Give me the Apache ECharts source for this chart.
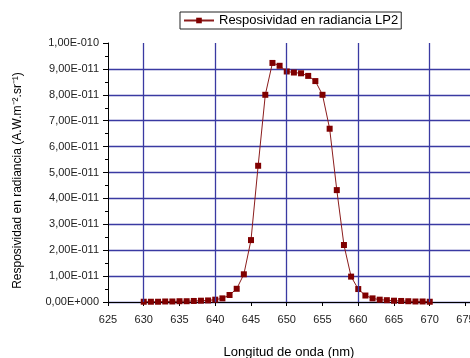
<!DOCTYPE html>
<html>
<head>
<meta charset="utf-8">
<script src="https://cdn.jsdelivr.net/npm/echarts@6/dist/echarts.min.js"></script>
<style>
  html, body { margin: 0; padding: 0; background: #fff; }
  #chart { width: 470px; height: 358px; }
</style>
</head>
<body>
<div id="chart"></div>
<script>
// wavelengths (nm)
const wavelengths = [
  630, 631, 632, 633, 634, 635, 636, 637, 638, 639,
  640, 641, 642, 643, 644, 645, 646, 647, 648, 649,
  650, 651, 652, 653, 654, 655, 656, 657, 658, 659,
  660, 661, 662, 663, 664, 665, 666, 667, 668, 669, 670
];
// responsivity in radiance (A.W.m-2.sr-1)
const responsivity = [
  0.01e-11, 0.01e-11, 0.01e-11, 0.02e-11, 0.02e-11, 0.03e-11, 0.03e-11, 0.04e-11, 0.05e-11, 0.06e-11,
  0.09e-11, 0.14e-11, 0.27e-11, 0.51e-11, 1.07e-11, 2.39e-11, 5.26e-11, 8.00e-11, 9.23e-11, 9.12e-11,
  8.90e-11, 8.86e-11, 8.83e-11, 8.73e-11, 8.53e-11, 8.00e-11, 6.69e-11, 4.32e-11, 2.20e-11, 0.98e-11,
  0.50e-11, 0.25e-11, 0.14e-11, 0.09e-11, 0.07e-11, 0.05e-11, 0.04e-11, 0.03e-11, 0.02e-11, 0.02e-11, 0.01e-11
];
const yTickLabels = [
  '0,00E+000', '1,00E-011', '2,00E-011', '3,00E-011', '4,00E-011', '5,00E-011',
  '6,00E-011', '7,00E-011', '8,00E-011', '9,00E-011', '1,00E-010'
];
// vertical grid lines
const xGridLines = [630, 640, 650, 660, 670];

const seriesName = 'Resposividad en radiancia LP2';
const font = 'Liberation Sans, Arial, sans-serif';
const gridColor = '#3a3aa2';

const chart = echarts.init(document.getElementById('chart'));
chart.setOption({
  animation: false,
  textStyle: { fontFamily: font },
  legend: {
    data: [seriesName],
    left: 180,
    top: 12,
    padding: [2, 3, 2, 3],
    borderColor: '#222',
    borderWidth: 1,
    itemWidth: 30,
    itemHeight: 7,
    itemGap: 4,
    textStyle: { fontSize: 13, color: '#000', fontFamily: font }
  },
  grid: { left: 108, top: 43, right: 0, bottom: 56, outerBoundsMode: 'none', containLabel: false },
  xAxis: {
    type: 'value',
    min: 625,
    max: 675.63,
    interval: 5,
    offset: 4,
    name: 'Longitud de onda (nm)',
    nameLocation: 'middle',
    nameGap: 40,
    nameTextStyle: { fontSize: 13, color: '#000', fontFamily: font },
    axisLine: { lineStyle: { color: '#000', width: 1 } },
    axisTick: { length: 4, lineStyle: { color: '#000' } },
    axisLabel: { fontSize: 11, color: '#222', margin: 8, fontFamily: font },
    splitLine: { show: false }
  },
  yAxis: {
    type: 'value',
    min: 0,
    max: 1e-10,
    interval: 1e-11,
    name: 'Resposividad en radiancia (A.W.m⁻².sr⁻¹)',
    nameLocation: 'middle',
    nameGap: 84,
    nameTextStyle: { fontSize: 12, color: '#000', fontFamily: font, padding: [0, 16, 0, 0] },
    axisLine: { show: true, lineStyle: { color: '#000', width: 1 } },
    axisTick: { length: 5, lineStyle: { color: '#000' } },
    minorTick: { show: true, splitNumber: 2, length: 3, lineStyle: { color: '#000' } },
    axisLabel: {
      fontSize: 11,
      color: '#222',
      margin: 9,
      fontFamily: font,
      formatter: (v) => yTickLabels[Math.round(v / 1e-11)]
    },
    splitLine: {
      show: true,
      showMaxLine: false,
      lineStyle: { color: gridColor, width: 1.3 }
    }
  },
  series: [
    {
      name: seriesName,
      type: 'line',
      data: wavelengths.map((w, i) => [w, responsivity[i]]),
      symbol: 'rect',
      symbolSize: 6,
      itemStyle: { color: '#800000' },
      lineStyle: { color: '#8b1c1c', width: 1 },
      markLine: {
        silent: true,
        symbol: 'none',
        label: { show: false },
        lineStyle: { color: gridColor, width: 1.3, type: 'solid' },
        data: xGridLines.map((x) => ({ xAxis: x }))
      },
      z: 3
    }
  ]
});
</script>
</body>
</html>
